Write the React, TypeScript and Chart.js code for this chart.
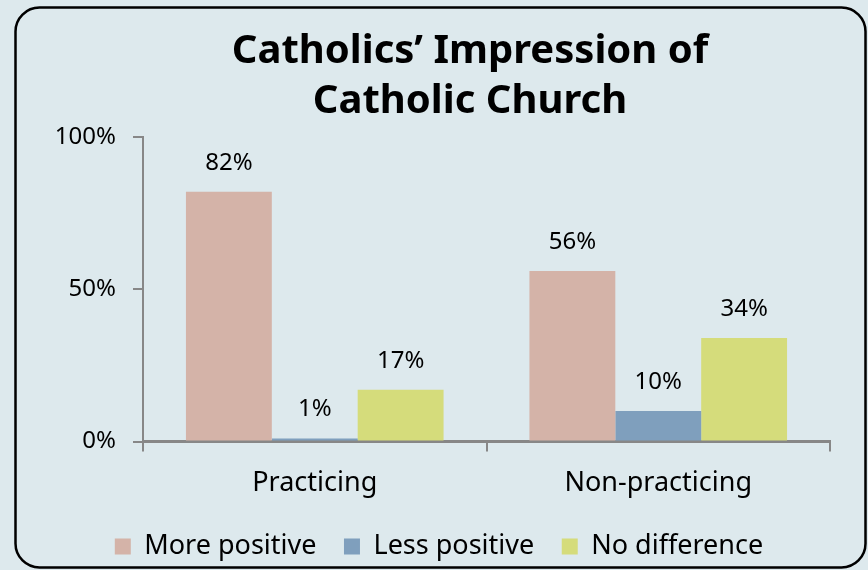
import React, { useEffect, useRef } from 'react';
import { Chart, registerables } from 'chart.js';

Chart.register(...registerables);

const categories = ['Practicing', 'Non-practicing'];
const seriesNames = ['More positive', 'Less positive', 'No difference'];
const morePositive = [82, 56];
const lessPositive = [1, 10];
const noDifference = [17, 34];
const seriesColors = ['#d4b3a8', '#7f9fbd', '#d5dc7b'];
const yTickValues = [0, 50, 100];
const titleLines = ['Catholics\u2019 Impression of', 'Catholic Church'];

const FONT = "'Noto Sans', sans-serif";
const BG = '#dde9ed';
const AXIS = '#878787';

const backgroundPlugin = {
  id: 'bgBorder',
  beforeDraw(chart: any) {
    const ctx = chart.ctx;
    ctx.save();
    ctx.fillStyle = BG;
    ctx.fillRect(0, 0, chart.width, chart.height);
    ctx.beginPath();
    ctx.roundRect(15.5, 7.5, 850, 560, 24);
    ctx.lineWidth = 2.5;
    ctx.strokeStyle = '#000';
    ctx.stroke();
    ctx.restore();
  },
};

const titlePlugin = {
  id: 'twoLineTitle',
  afterDraw(chart: any) {
    const ctx = chart.ctx;
    ctx.save();
    ctx.fillStyle = '#000';
    ctx.font = `bold 40px ${FONT}`;
    ctx.textAlign = 'center';
    ctx.textBaseline = 'alphabetic';
    ctx.fillText(titleLines[0], 470, 63);
    ctx.fillText(titleLines[1], 470, 113);
    ctx.restore();
  },
};

const valueLabelPlugin = {
  id: 'valueLabels',
  afterDatasetsDraw(chart: any) {
    const ctx = chart.ctx;
    ctx.save();
    ctx.fillStyle = '#000';
    ctx.font = `24px ${FONT}`;
    ctx.textAlign = 'center';
    ctx.textBaseline = 'middle';
    chart.data.datasets.forEach((ds: any, i: number) => {
      const meta = chart.getDatasetMeta(i);
      meta.data.forEach((el: any, j: number) => {
        ctx.fillText(`${ds.data[j]}%`, el.x, el.y - 29);
      });
    });
    ctx.restore();
  },
};

export default function App() {
  const canvasRef = useRef<HTMLCanvasElement | null>(null);

  useEffect(() => {
    document.body.style.margin = '0';
    document.body.style.background = BG;
    const canvas = canvasRef.current;
    if (!canvas) return;
    const seriesData = [morePositive, lessPositive, noDifference];
    const chart = new Chart(canvas, {
      type: 'bar',
      data: {
        labels: categories,
        datasets: seriesNames.map((name, i) => ({
          label: name,
          data: seriesData[i],
          backgroundColor: seriesColors[i],
          borderWidth: 0,
          categoryPercentage: 0.75,
          barPercentage: 1,
        })),
      },
      options: {
        responsive: false,
        animation: false,
        devicePixelRatio: 1,
        layout: {
          padding: { top: 137, left: 48, right: 38, bottom: 0 },
        },
        plugins: {
          title: { display: false },
          tooltip: { enabled: false },
          legend: {
            display: true,
            position: 'bottom',
            maxHeight: 67,
            labels: {
              boxWidth: 16,
              boxHeight: 16,
              padding: 27.5,
              color: '#000',
              font: { family: FONT, size: 27 },
            },
          },
        },
        scales: {
          x: {
            grid: {
              display: true,
              drawOnChartArea: false,
              drawTicks: true,
              tickLength: 10,
              color: AXIS,
              lineWidth: 2,
              offset: true,
            },
            border: { display: true, color: AXIS, width: 3 },
            ticks: {
              color: '#000',
              padding: 16,
              font: { family: FONT, size: 27 },
            },
            afterFit(scale: any) {
              scale.height = 64;
            },
          },
          y: {
            min: 0,
            max: 100,
            afterBuildTicks(scale: any) {
              scale.ticks = yTickValues.map((v) => ({ value: v }));
            },
            grid: {
              display: true,
              drawOnChartArea: false,
              drawTicks: true,
              tickLength: 10,
              color: AXIS,
              lineWidth: 2,
            },
            border: { display: true, color: AXIS, width: 2 },
            ticks: {
              color: '#000',
              padding: 17,
              font: { family: FONT, size: 24 },
              callback: (v: any) => `${v}%`,
            },
            afterFit(scale: any) {
              scale.width = 95;
            },
          },
        },
      },
      plugins: [backgroundPlugin, titlePlugin, valueLabelPlugin],
    });
    return () => chart.destroy();
  }, []);

  return (
    <div style={{ width: 868, height: 570, background: BG }}>
      <canvas ref={canvasRef} width={868} height={570} style={{ display: 'block' }} />
    </div>
  );
}
